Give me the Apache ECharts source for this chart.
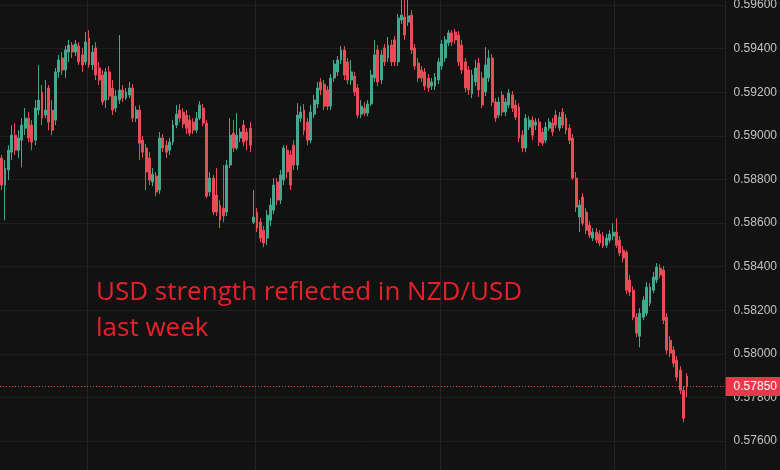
<!DOCTYPE html>
<html><head><meta charset="utf-8">
<script src="https://cdn.jsdelivr.net/npm/echarts@6/dist/echarts.min.js"></script>
<style>html,body{margin:0;padding:0;background:#121212;}#c{width:780px;height:470px;}</style>
</head><body><div id="c"></div>
<script>
// [open, close, low, high]
const seg1 = [
[0.58898,0.58774,0.58751,0.58912],[0.58774,0.58852,0.58613,0.58889],[0.58843,0.58934,0.58797,0.58957],[0.58925,0.59003,0.58889,0.59049],
[0.59003,0.58934,0.58912,0.59058],[0.58934,0.58990,0.58898,0.59026],[0.58980,0.59049,0.58856,0.59081],[0.59035,0.59081,0.59003,0.59127],
[0.59081,0.58990,0.58971,0.59109],[0.59049,0.58971,0.58934,0.59072],[0.58980,0.59127,0.58957,0.59164],[0.59118,0.59164,0.59095,0.59325],
[0.59201,0.59081,0.59049,0.59233],[0.59095,0.59118,0.59081,0.59256],[0.59219,0.59063,0.59026,0.59233],[0.59118,0.59026,0.59003,0.59164],
[0.59072,0.59293,0.59049,0.59311],[0.59293,0.59348,0.59265,0.59371],[0.59357,0.59302,0.59279,0.59384],[0.59302,0.59394,0.59265,0.59412],
[0.59384,0.59416,0.59339,0.59440],[0.59416,0.59384,0.59357,0.59430],[0.59384,0.59421,0.59366,0.59440],[0.59412,0.59339,0.59325,0.59430],
[0.59371,0.59325,0.59293,0.59403],[0.59339,0.59430,0.59325,0.59476],[0.59449,0.59325,0.59311,0.59485],[0.59325,0.59384,0.59302,0.59416],
[0.59403,0.59279,0.59256,0.59430],[0.59311,0.59256,0.59233,0.59339],[0.59279,0.59155,0.59141,0.59302],[0.59164,0.59293,0.59127,0.59311],
[0.59293,0.59182,0.59164,0.59320],[0.59219,0.59118,0.59095,0.59256],[0.59127,0.59182,0.59109,0.59210],[0.59164,0.59210,0.59146,0.59462],
[0.59210,0.59173,0.59155,0.59233],[0.59173,0.59201,0.59164,0.59219],[0.59187,0.59219,0.59173,0.59247],[0.59219,0.59081,0.59063,0.59237],
[0.59081,0.59118,0.59063,0.59136],[0.59118,0.58966,0.58889,0.59141],[0.58980,0.58925,0.58898,0.58999],[0.58944,0.58834,0.58751,0.58962],
[0.58898,0.58797,0.58774,0.58925],[0.58788,0.58824,0.58769,0.58852],[0.58815,0.58742,0.58723,0.58834],[0.58751,0.58990,0.58733,0.59017],
[0.58990,0.58944,0.58925,0.59008],[0.58957,0.58925,0.58898,0.58980],[0.58934,0.58971,0.58912,0.58990],[0.58971,0.59049,0.58957,0.59072],
[0.59049,0.59099,0.59035,0.59141]
];
const seg2 = [
[0.59118,0.59081,0.59063,0.59146],[0.59109,0.59054,0.59035,0.59127],[0.59095,0.59035,0.59008,0.59118],[0.59072,0.59012,0.58999,0.59095],
[0.59063,0.59026,0.59008,0.59081],[0.59026,0.59081,0.59012,0.59109],[0.59081,0.59141,0.59072,0.59159],[0.59127,0.59058,0.59045,0.59146],
[0.59058,0.58723,0.58714,0.59072],[0.58742,0.58806,0.58723,0.58834],[0.58806,0.58650,0.58636,0.58820],[0.58728,0.58650,0.58632,0.58852],
[0.58682,0.58613,0.58577,0.58705],[0.58668,0.58632,0.58604,0.58866],[0.58650,0.58866,0.58632,0.58889],[0.58866,0.59003,0.58852,0.59081],
[0.59012,0.58944,0.58925,0.59072],[0.58944,0.59003,0.58934,0.59104],[0.58990,0.59017,0.58971,0.59035],[0.59049,0.58971,0.58953,0.59072],
[0.59017,0.58980,0.58934,0.59035],[0.59035,0.58957,0.58925,0.59063],[0.58604,0.58627,0.58595,0.58751],[0.58650,0.58577,0.58558,0.58668],
[0.58604,0.58531,0.58512,0.58622],[0.58567,0.58508,0.58489,0.58586],[0.58531,0.58636,0.58498,0.58659],[0.58613,0.58682,0.58586,0.58714],
[0.58659,0.58774,0.58641,0.58806],[0.58788,0.58705,0.58682,0.58806],[0.58705,0.58820,0.58687,0.58843],[0.58797,0.58944,0.58774,0.58957],
[0.58934,0.58834,0.58806,0.58957],[0.58912,0.58774,0.58751,0.58934],[0.58957,0.58866,0.58843,0.58980],[0.58866,0.59095,0.58843,0.59150],
[0.59081,0.59109,0.59063,0.59136],[0.59118,0.59026,0.59003,0.59146],[0.59063,0.58980,0.58957,0.59081],[0.58980,0.59109,0.58966,0.59141],
[0.59099,0.59164,0.59081,0.59187],[0.59146,0.59219,0.59127,0.59247],[0.59247,0.59210,0.59187,0.59265],[0.59237,0.59136,0.59118,0.59256],
[0.59210,0.59136,0.59118,0.59228],[0.59136,0.59265,0.59118,0.59283],[0.59265,0.59329,0.59247,0.59348],[0.59293,0.59348,0.59274,0.59366],
[0.59348,0.59394,0.59329,0.59412]
];
const seg3 = [
[0.59394,0.59279,0.59256,0.59412],[0.59339,0.59256,0.59237,0.59357],[0.59256,0.59293,0.59233,0.59348],[0.59274,0.59201,0.59182,0.59293],
[0.59219,0.59095,0.59081,0.59237],[0.59099,0.59136,0.59081,0.59164],[0.59127,0.59104,0.59090,0.59155],[0.59104,0.59146,0.59090,0.59164],
[0.59146,0.59279,0.59136,0.59302],[0.59265,0.59371,0.59247,0.59440],[0.59394,0.59247,0.59228,0.59416],[0.59256,0.59371,0.59237,0.59394],
[0.59403,0.59339,0.59320,0.59421],[0.59357,0.59416,0.59339,0.59453],[0.59416,0.59339,0.59320,0.59440],[0.59440,0.59339,0.59320,0.59458],
[0.59339,0.59540,0.59320,0.59559],[0.59531,0.59554,0.59513,0.59646],[0.59545,0.59462,0.59440,0.59623],[0.59522,0.59550,0.59504,0.59637],
[0.59554,0.59394,0.59375,0.59577],[0.59403,0.59320,0.59302,0.59421],[0.59334,0.59265,0.59247,0.59357],[0.59302,0.59265,0.59247,0.59320],
[0.59293,0.59228,0.59210,0.59311],[0.59265,0.59219,0.59201,0.59283],[0.59228,0.59247,0.59210,0.59265],[0.59228,0.59270,0.59210,0.59288],
[0.59256,0.59339,0.59237,0.59357],[0.59320,0.59421,0.59302,0.59440],[0.59357,0.59440,0.59339,0.59458],[0.59426,0.59472,0.59412,0.59485],
[0.59472,0.59430,0.59412,0.59485],[0.59476,0.59440,0.59421,0.59490],[0.59462,0.59339,0.59320,0.59481],[0.59416,0.59302,0.59283,0.59440],
[0.59339,0.59219,0.59201,0.59357],[0.59302,0.59210,0.59187,0.59320],[0.59192,0.59279,0.59173,0.59302],[0.59247,0.59311,0.59228,0.59348],
[0.59334,0.59210,0.59178,0.59357],[0.59265,0.59141,0.59127,0.59293],[0.59201,0.59325,0.59182,0.59407],[0.59265,0.59357,0.59247,0.59394],
[0.59357,0.59155,0.59136,0.59375],[0.59155,0.59081,0.59063,0.59173],[0.59095,0.59155,0.59081,0.59178],[0.59187,0.59109,0.59090,0.59205],
[0.59109,0.59155,0.59090,0.59173],[0.59141,0.59196,0.59127,0.59214],[0.59187,0.59127,0.59109,0.59205],[0.59141,0.59086,0.59072,0.59164]
];
const seg4 = [
[0.59132,0.58990,0.58971,0.59150],[0.59003,0.58944,0.58925,0.59026],[0.58944,0.59081,0.58925,0.59099],[0.59040,0.59072,0.59026,0.59090],
[0.59072,0.59003,0.58980,0.59090],[0.59049,0.59063,0.59026,0.59081],[0.59063,0.58971,0.58953,0.59081],[0.59017,0.58966,0.58953,0.59035],
[0.58980,0.59040,0.58966,0.59063],[0.59035,0.59063,0.59022,0.59081],[0.59058,0.59017,0.58999,0.59081],[0.59095,0.59049,0.59035,0.59118],
[0.59035,0.59086,0.59022,0.59109],[0.59109,0.59049,0.59035,0.59127],[0.59081,0.59026,0.59008,0.59099],[0.59035,0.58980,0.58962,0.59054],
[0.58990,0.58806,0.58797,0.59008],[0.58806,0.58673,0.58650,0.58834],[0.58627,0.58682,0.58558,0.58705],[0.58719,0.58599,0.58586,0.58737],
[0.58650,0.58567,0.58549,0.58668],[0.58590,0.58544,0.58531,0.58609],[0.58531,0.58558,0.58517,0.58577],[0.58558,0.58521,0.58508,0.58577],
[0.58549,0.58508,0.58494,0.58567],[0.58540,0.58494,0.58485,0.58558],[0.58498,0.58531,0.58485,0.58549],[0.58521,0.58549,0.58508,0.58567],
[0.58540,0.58558,0.58521,0.58599],[0.58558,0.58498,0.58485,0.58622],[0.58521,0.58462,0.58448,0.58540],[0.58475,0.58439,0.58420,0.58494],
[0.58466,0.58292,0.58274,0.58475],[0.58338,0.58283,0.58264,0.58361],[0.58292,0.58168,0.58154,0.58310],[0.58168,0.58095,0.58076,0.58186],
[0.58081,0.58186,0.58030,0.58209],[0.58168,0.58246,0.58154,0.58264],[0.58186,0.58306,0.58173,0.58329],[0.58232,0.58306,0.58218,0.58324],
[0.58292,0.58352,0.58278,0.58375],[0.58338,0.58398,0.58324,0.58416],[0.58393,0.58361,0.58347,0.58411],[0.58384,0.58154,0.58136,0.58402],
[0.58168,0.58017,0.57998,0.58186],[0.58062,0.58003,0.57985,0.58081],[0.58017,0.57957,0.57938,0.58035],[0.57971,0.57893,0.57874,0.57989],
[0.57925,0.57833,0.57815,0.57943],[0.57833,0.57704,0.57686,0.57851],[0.57897,0.57850,0.57801,0.57911]
];
const emptySlots = 11;
const lastPrice = 0.57850;
const dayBreaks = [26, 76, 131, 183];
const yTicks = { min: 0.574, max: 0.598, step: 0.002 };
const titleLines = ['USD strength reflected in NZD/USD', 'last week'];

const candles = seg1.concat(seg2, seg3, seg4);
for (let k = 0; k < emptySlots; k++) candles.push('-');
const categories = candles.map((_, i) => String(i));

const UP = '#43a88e', DOWN = '#e84c56';
const chart = echarts.init(document.getElementById('c'), null, {renderer: 'canvas'});
chart.setOption({
  backgroundColor: '#121212',
  animation: false,
  title: {
    text: titleLines.join('\n'),
    left: 91, top: 270,
    textStyle: {color: '#e8202a', fontSize: 26, fontWeight: 'normal', fontFamily: 'Open Sans', lineHeight: 36}
  },
  grid: {left: 0, right: 54.4, top: -38.6, bottom: -14.6, containLabel: false, outerBoundsMode: 'none'},
  xAxis: {
    type: 'category', data: categories, boundaryGap: true,
    axisLine: {show: false}, axisTick: {show: false}, axisLabel: {show: false},
    splitLine: {show: true, interval: (i) => dayBreaks.indexOf(i) >= 0, lineStyle: {color: '#232323', width: 1}}
  },
  yAxis: {
    type: 'value', position: 'right', scale: true,
    min: yTicks.min, max: yTicks.max, interval: yTicks.step,
    axisLine: {show: false}, axisTick: {show: false},
    axisLabel: {color: '#c4c4c4', fontSize: 12, fontFamily: 'Liberation Sans', margin: 8, formatter: v => v.toFixed(5)},
    splitLine: {lineStyle: {color: '#1f1f1f', width: 1}}
  },
  series: [{
    type: 'candlestick', data: candles, barWidth: '72%',
    itemStyle: {color: UP, color0: DOWN, borderColor: UP, borderColor0: DOWN, borderWidth: 1},
    markLine: {
      silent: true, symbol: ['none', 'none'], precision: 5,
      data: [{yAxis: lastPrice}],
      lineStyle: {color: '#e84c56', type: [1, 2], width: 1},
      label: {position: 'end', distance: 0, formatter: lastPrice.toFixed(5), color: '#ffffff',
              backgroundColor: '#e8394a', padding: [4, 8, 3, 8], fontSize: 12, fontFamily: 'Liberation Sans'}
    }
  }]
});
</script></body></html>
